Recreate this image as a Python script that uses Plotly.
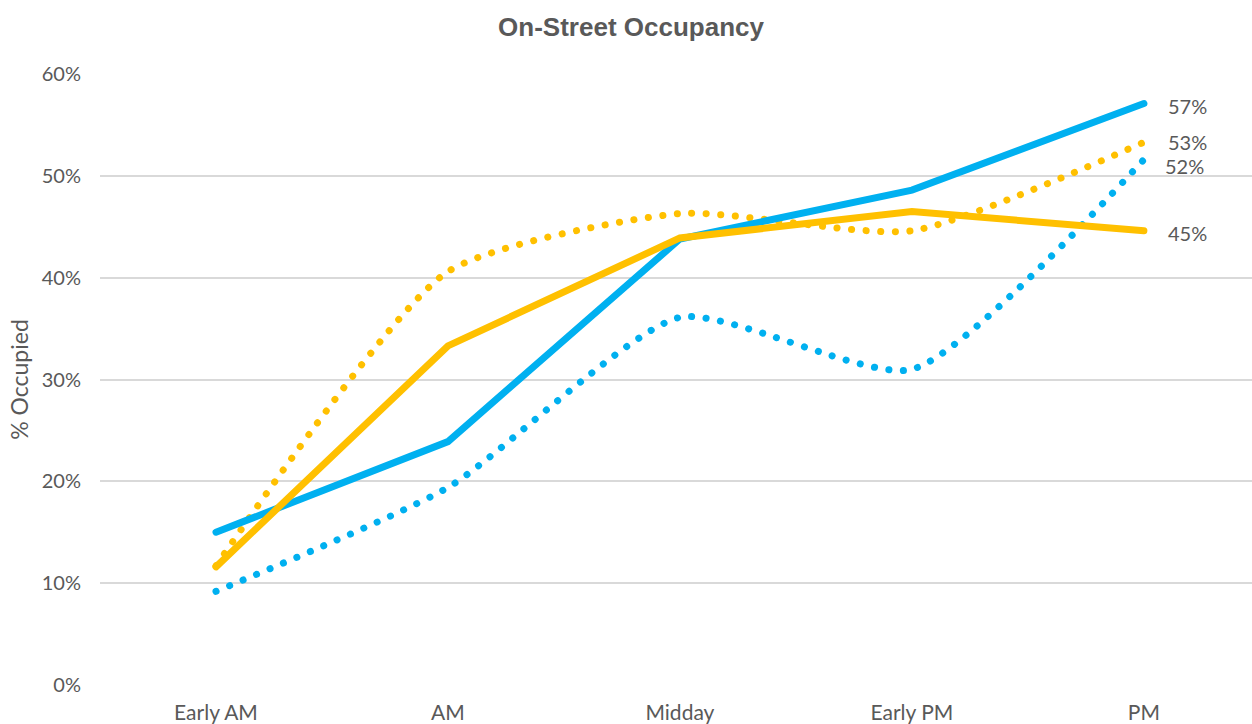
import plotly.graph_objects as go

categories = ["Early AM", "AM", "Midday", "Early PM", "PM"]
blue_solid = [0.150, 0.239, 0.438, 0.486, 0.571]
yellow_solid = [0.116, 0.333, 0.439, 0.465, 0.446]
yellow_dotted = [0.117, 0.406, 0.463, 0.446, 0.533]
blue_dotted = [0.092, 0.194, 0.361, 0.310, 0.516]
end_labels = ["57%", "45%", "53%", "52%"]

BLUE = "#00B0F0"
YELLOW = "#FFC000"
GRAY = "#595959"
FONT = "Lato, 'Open Sans', sans-serif"
TITLE_FONT = "'Liberation Sans', Arial, sans-serif"

fig = go.Figure()
fig.add_trace(go.Scatter(x=categories, y=blue_dotted, mode="lines",
                         line=dict(color=BLUE, width=7, dash="0.1px,14.5px",
                                   shape="spline", smoothing=0.6),
                         name="blue dotted"))
fig.add_trace(go.Scatter(x=categories, y=yellow_dotted, mode="lines",
                         line=dict(color=YELLOW, width=7, dash="0.1px,14.5px",
                                   shape="spline", smoothing=0.6),
                         name="yellow dotted"))
fig.add_trace(go.Scatter(x=categories, y=blue_solid, mode="lines",
                         line=dict(color=BLUE, width=7), name="blue solid"))
fig.add_trace(go.Scatter(x=categories, y=yellow_solid, mode="lines",
                         line=dict(color=YELLOW, width=7), name="yellow solid"))

series_end = [blue_solid[-1], yellow_solid[-1], yellow_dotted[-1], blue_dotted[-1]]
shifts = [(22, -2), (22, -2), (22, 0), (19, -6)]
for lab, yv, (xs, ys) in zip(end_labels, series_end, shifts):
    fig.add_annotation(x=categories[-1], y=yv, text=lab, showarrow=False,
                       xanchor="left", yanchor="middle", xshift=xs, yshift=ys,
                       font=dict(family=FONT, size=20, color=GRAY))

fig.update_layout(
    width=1252, height=724,
    paper_bgcolor="white", plot_bgcolor="white",
    margin=dict(l=100, r=0, t=74, b=39),
    showlegend=False,
    title=dict(text="<b>On-Street Occupancy</b>", x=0.504, xanchor="center",
               y=0.963, yanchor="middle",
               font=dict(family=TITLE_FONT, size=26, color=GRAY)),
    font=dict(family=FONT, size=20, color=GRAY),
)
fig.update_xaxes(range=[-0.5, 4.466], showgrid=False, zeroline=False, showline=False,
                 tickfont=dict(family=FONT, size=21, color=GRAY), ticks="",
                 ticklabelstandoff=13)
fig.update_yaxes(range=[0, 0.6], dtick=0.1, tickformat=".0%",
                 showgrid=True, gridcolor="#D9D9D9", gridwidth=1.5,
                 zeroline=False, showline=False,
                 tickfont=dict(family=FONT, size=20, color=GRAY),
                 ticklabelstandoff=18,
                 title=dict(text="% Occupied", standoff=6,
                            font=dict(family=FONT, size=23, color=GRAY)))

post = """
document.body.style.margin = '0';
document.body.style.padding = '0';
document.querySelectorAll('.scatterlayer .js-line').forEach(function(p){
  p.style.strokeLinecap = 'round';
});
"""
fig.write_html("out.html", post_script=post, config={"displayModeBar": False})
